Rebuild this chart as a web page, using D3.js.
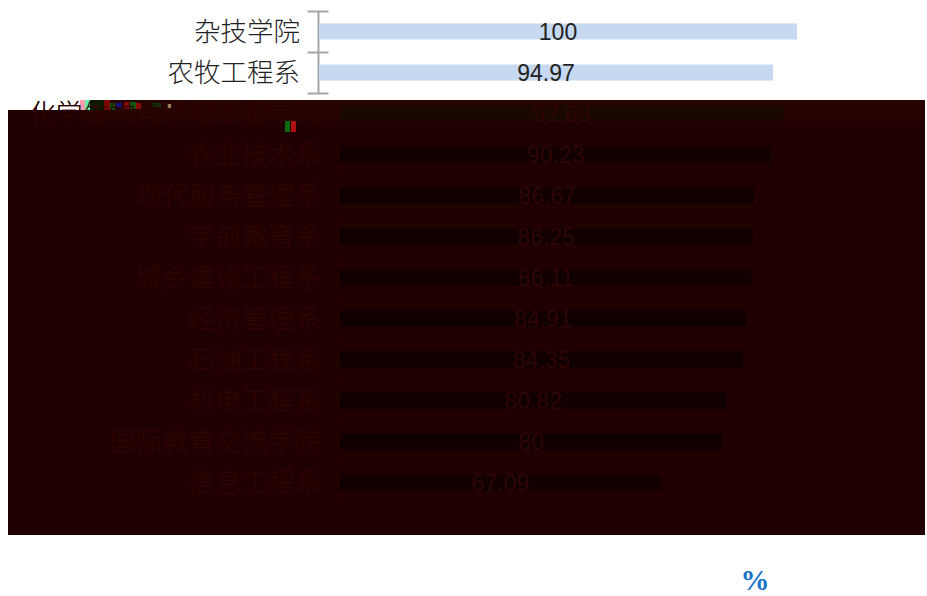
<!DOCTYPE html>
<html><head><meta charset="utf-8">
<script src="https://cdn.jsdelivr.net/npm/d3@7"></script>
<style>html,body{margin:0;padding:0;background:#fff}svg{display:block}</style>
</head><body><svg id="c" width="927" height="596"></svg>
<script>
const categories = ["杂技学院","农牧工程系","化学生物与环境工程学院","农业技术系","现代服务管理系","学前教育系","城乡建设工程系","经济管理系","石油工程系","机电工程系","国际教育交流学院","信息工程系"];
const values = [100,94.97,92.68,90.23,86.67,86.25,86.11,84.91,84.35,80.82,80,67.09];
const valueLabels = ["100","94.97","92.68","90.23","86.67","86.25","86.11","84.91","84.35","80.82","80","67.09"];
const unitLabel = "%";

const svg = d3.select("#c");
const cjk = "'Noto Sans CJK SC','Noto Sans',sans-serif", latin = "'Liberation Sans',Arial,sans-serif";
const x = d3.scaleLinear().domain([0,100]).range([319,797]);
const y = d3.scaleBand().domain(categories).range([11,503]);
const edge = d3.scaleLinear().domain([0,12]).range([11,503]);
const offset = 21;

function draw(g, rows, st){
  g.append("g").attr("transform","translate(318.5,0)").attr("class","ax")
    .call(d3.axisLeft(edge).tickValues(st.edges).tickSizeOuter(0).tickFormat(""))
    .call(a=>a.selectAll(".tick line").attr("x1",-11).attr("x2",10).attr("stroke",st.axis).attr("stroke-width",2))
    .call(a=>a.select(".domain").attr("d",`M0,${edge(st.edges[0])}V${edge(st.edges[st.edges.length-1])}`).attr("stroke",st.axis).attr("stroke-width",2));
  g.selectAll("rect.bar").data(rows).join("rect").attr("class","bar")
    .attr("x",x(0)).attr("width",d=>x(values[d])-x(0))
    .attr("y",d=>y(categories[d])+y.bandwidth()/2-8).attr("height",16)
    .attr("fill",d=>st.bar(d));
  g.selectAll("text.cat").data(rows).join("text").attr("class","cat")
    .attr("x",300).attr("y",d=>y(categories[d])+y.bandwidth()/2).attr("dy","0.35em")
    .attr("text-anchor","end").attr("font-family",cjk).attr("font-weight",300).attr("font-size",26.5).attr("fill",st.text)
    .text(d=>categories[d]);
  g.selectAll("text.val").data(rows).join("text").attr("class","val")
    .attr("x",d=>(x(0)+x(values[d]))/2).attr("y",d=>y(categories[d])+y.bandwidth()/2).attr("dy","0.35em")
    .attr("text-anchor","middle").attr("font-family",latin).attr("font-size",23).attr("fill",st.text)
    .text(d=>valueLabels[d]);
}

// clean rows at the top of the picture
draw(svg.append("g"), [0,1], {edges:[0,1,2], axis:"#a6a6a6", bar:()=>"#c6d9f0", text:"#222"});
// part of the third label that stays readable
svg.append("text").attr("x",300+offset).attr("y",y(categories[2])+y.bandwidth()/2).attr("dy","0.35em")
  .attr("text-anchor","end").attr("font-family",cjk).attr("font-weight",300).attr("font-size",26.5).attr("fill","#222").text(categories[2]);

// the damaged dark area of the image, with the remaining rows shifted right
svg.append("path").attr("d","M8,110H80V100H925V535H8Z").attr("fill","#200000");
svg.append("rect").attr("x",80).attr("y",100).attr("width",845).attr("height",21).attr("fill","#260200");
[["#ff9db0",80,100,5,10],["#66f0a8",85,100,5,10],["#0a1a00",90,100,14,10],["#7a0505",104,100,6,10],["#0b5a10",110,103,5,7],["#12127a",116,103,6,5],["#8a0a0a",124,102,5,7],["#0b5a10",130,102,6,7],["#8a0a0a",136,103,5,6],["#0a3a0a",152,103,9,4],["#a08050",167,104,4,4],["#0b6a10",285,121,5,11],["#b01010",291,121,5,11]]
  .forEach(([f,a,b,w,h])=>svg.append("rect").attr("x",a).attr("y",b).attr("width",w).attr("height",h).attr("fill",f));
draw(svg.append("g").attr("transform",`translate(${offset},0)`), d3.range(2,12), {edges:d3.range(3,13), axis:"#230101", bar:d=>d===2?"#1a0800":"#100000", text:"#2f0404"});

svg.append("text").attr("x",755).attr("y",590).attr("text-anchor","middle")
  .attr("font-family","'Liberation Serif',serif").attr("font-weight","bold").attr("font-size",29).attr("fill","#1a73c8").text(unitLabel);
</script></body></html>
